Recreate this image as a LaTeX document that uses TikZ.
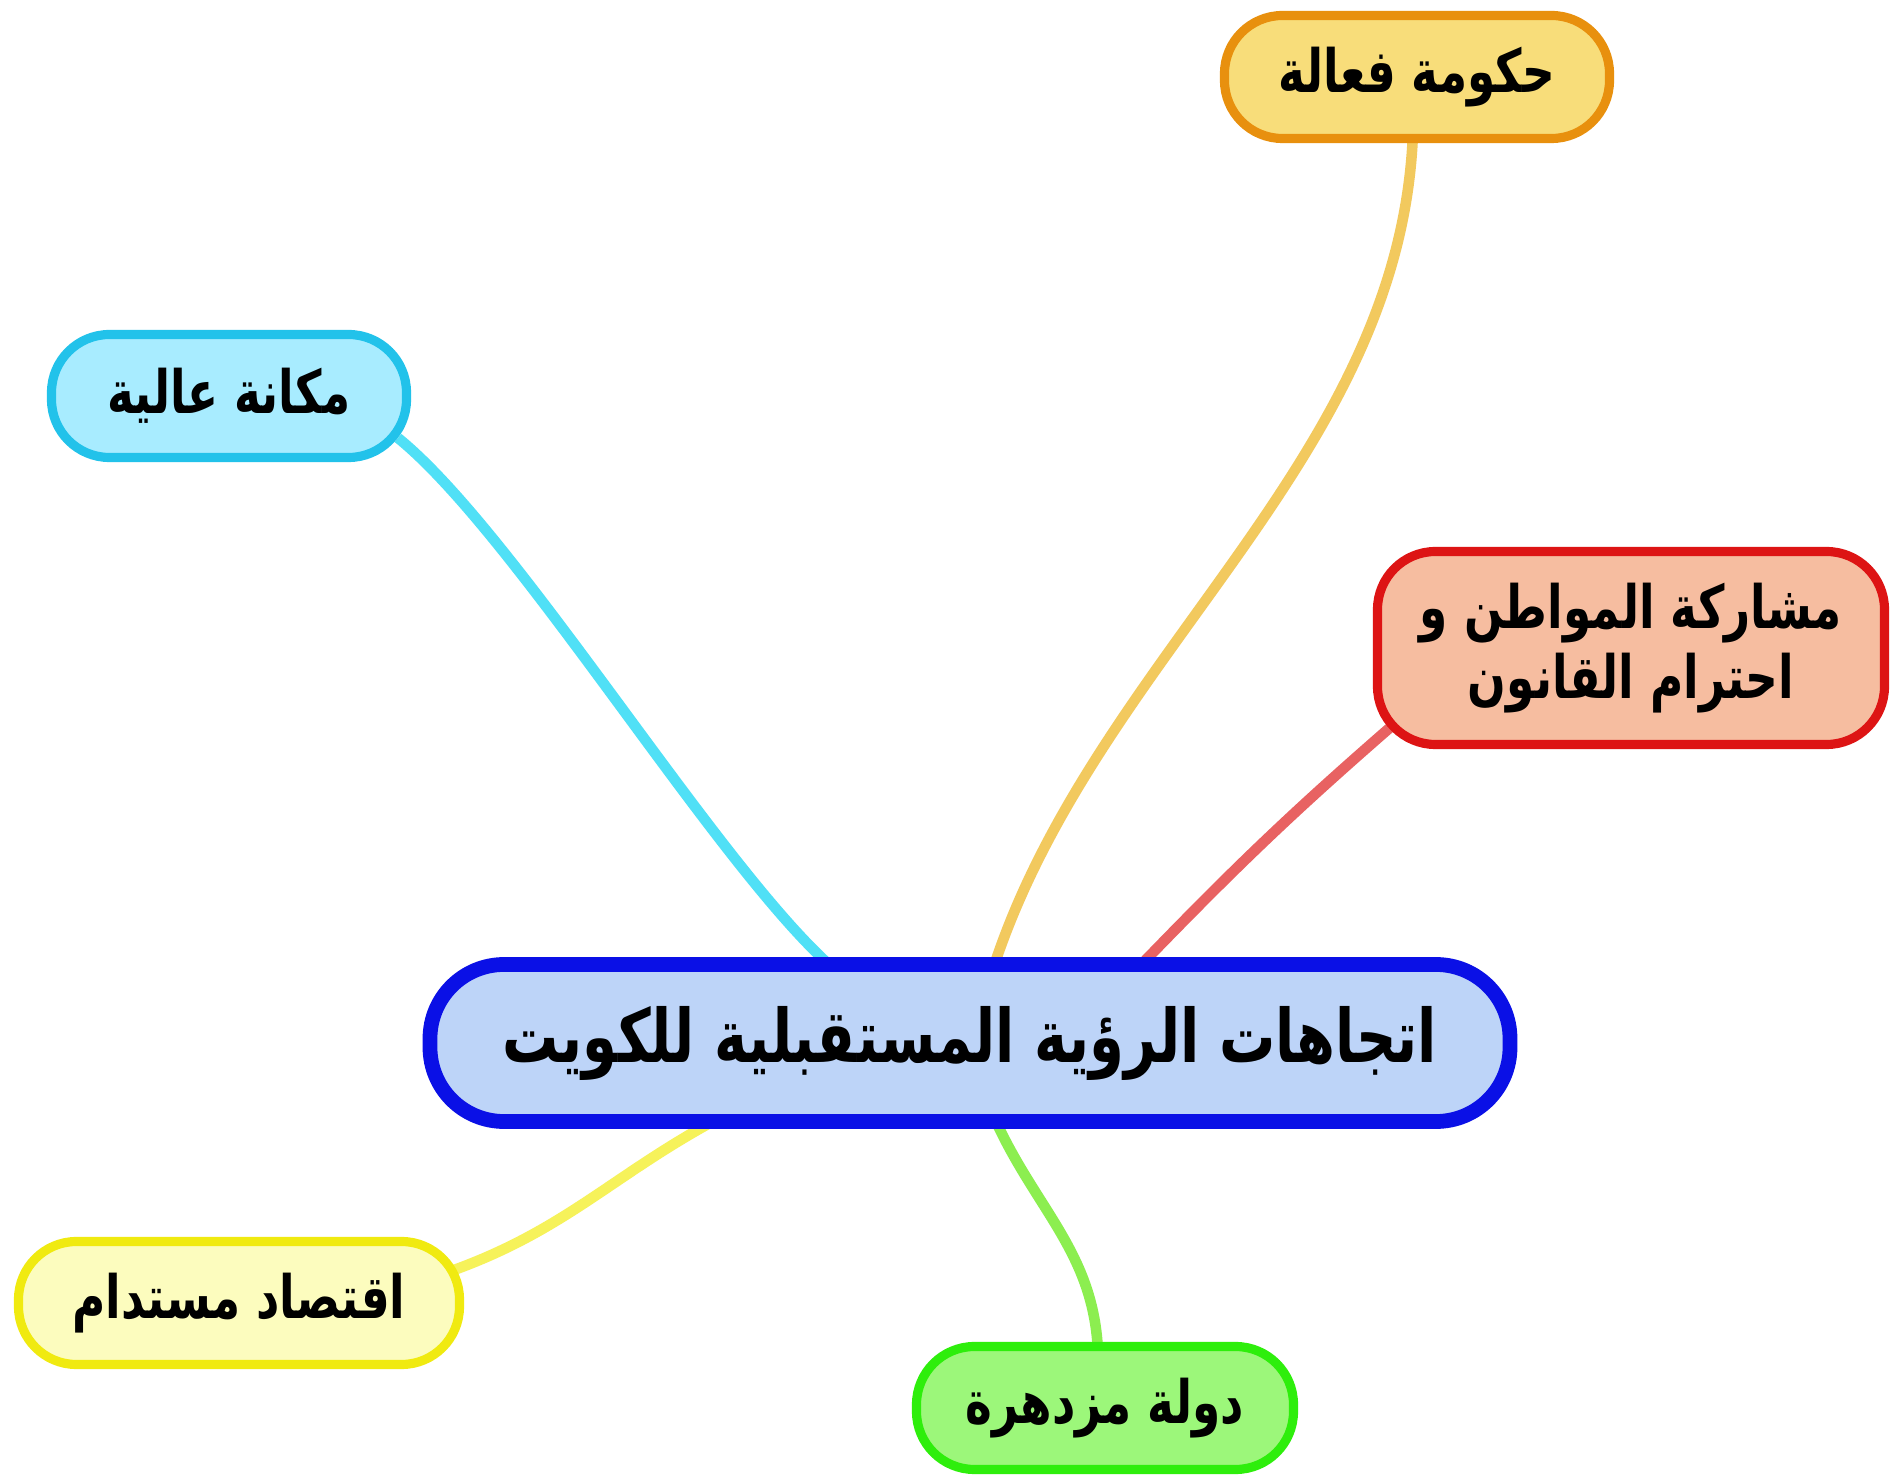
\documentclass[tikz,border=0pt]{standalone}
\usepackage{fontspec}
\newfontfamily\arabicfont[Script=Arabic, FakeStretch=0.76]{DejaVu Sans}
\TeXXeTstate=1
\usetikzlibrary{calc, backgrounds}
\definecolor{mainfill}{HTML}{BDD4F8}
\definecolor{mainline}{HTML}{0A10E6}
\definecolor{govfill}{HTML}{F8DD7A}
\definecolor{govline}{HTML}{E8900E}
\definecolor{govlink}{HTML}{F2C95E}
\definecolor{rankfill}{HTML}{A8ECFF}
\definecolor{rankline}{HTML}{22C2EA}
\definecolor{ranklink}{HTML}{50E0F6}
\definecolor{citfill}{HTML}{F6BDA0}
\definecolor{citline}{HTML}{DD1414}
\definecolor{citlink}{HTML}{E86262}
\definecolor{econfill}{HTML}{FCFCBE}
\definecolor{econline}{HTML}{F0EA10}
\definecolor{econlink}{HTML}{F6F25A}
\definecolor{statefill}{HTML}{9CF77A}
\definecolor{stateline}{HTML}{2EEE0C}
\definecolor{statelink}{HTML}{8CEE50}
\tikzset{
  main/.style={
    rectangle,
    rounded corners=0.74cm,
    minimum width=10.8cm,
    minimum height=1.57cm,
    align=center,
    line width=4.2pt,
    draw=mainline,
    fill=mainfill,
    font=\arabicfont\bfseries\fontsize{21}{26}\selectfont
  },
  sub/.style={
    rectangle,
    rounded corners=0.58cm,
    minimum height=1.23cm,
    align=center,
    line width=2.6pt,
    font=\arabicfont\bfseries\fontsize{17}{20}\selectfont
  },
  link/.style={line width=3pt}
}

\begin{document}
\begin{tikzpicture}
  \useasboundingbox (0,0) rectangle (19.01,14.77);
  \node (vision) [main] at (9.70,4.34) {\beginR اتجاهات الرؤية المستقبلية للكويت\endR};
  \node (gov) [sub, draw=govline, fill=govfill, minimum width=3.85cm] at (14.17,14.00) {\beginR حكومة فعالة\endR};
  \node (rank) [sub, draw=rankline, fill=rankfill, minimum width=3.55cm] at (2.29,10.81) {\beginR مكانة عالية\endR};
  \node (citizen) [sub, draw=citline, fill=citfill, minimum width=5.07cm, minimum height=1.93cm] at (16.31,8.29)
    {\beginR مشاركة المواطن و\endR\\ \beginR احترام القانون\endR};
  \node (econ) [sub, draw=econline, fill=econfill, minimum width=4.41cm] at (2.39,1.74) {\beginR اقتصاد مستدام\endR};
  \node (state) [sub, draw=stateline, fill=statefill, minimum width=3.77cm] at (11.05,0.69) {\beginR دولة مزدهرة\endR};
  % branches, kept under the boxes
  \begin{pgfonlayer}{background}
    \fill[white] (0,0) rectangle (19.01,14.77);
    \draw[link, ranklink] ($(rank.center)+(1.69,-0.42)$) to[out=-39,in=139,looseness=0.57] ($(vision.center)+(-1.36,0.74)$);
    \draw[link, govlink] ($(gov.center)+(-0.04,-0.55)$) to[out=-92,in=72,looseness=0.9] ($(vision.center)+(0.23,0.74)$);
    \draw[link, citlink] ($(citizen.center)+(-2.38,-0.77)$) to[out=-139,in=46] ($(vision.center)+(1.67,0.74)$);
    \draw[link, econlink] ($(econ.center)+(2.15,0.33)$) to[out=20,in=208] ($(vision.center)+(-2.49,-0.74)$);
    \draw[link, statelink] ($(vision.center)+(0.24,-0.74)$) to[out=-66,in=92] ($(state.center)+(-0.07,0.55)$);
  \end{pgfonlayer}
\end{tikzpicture}
\end{document}
